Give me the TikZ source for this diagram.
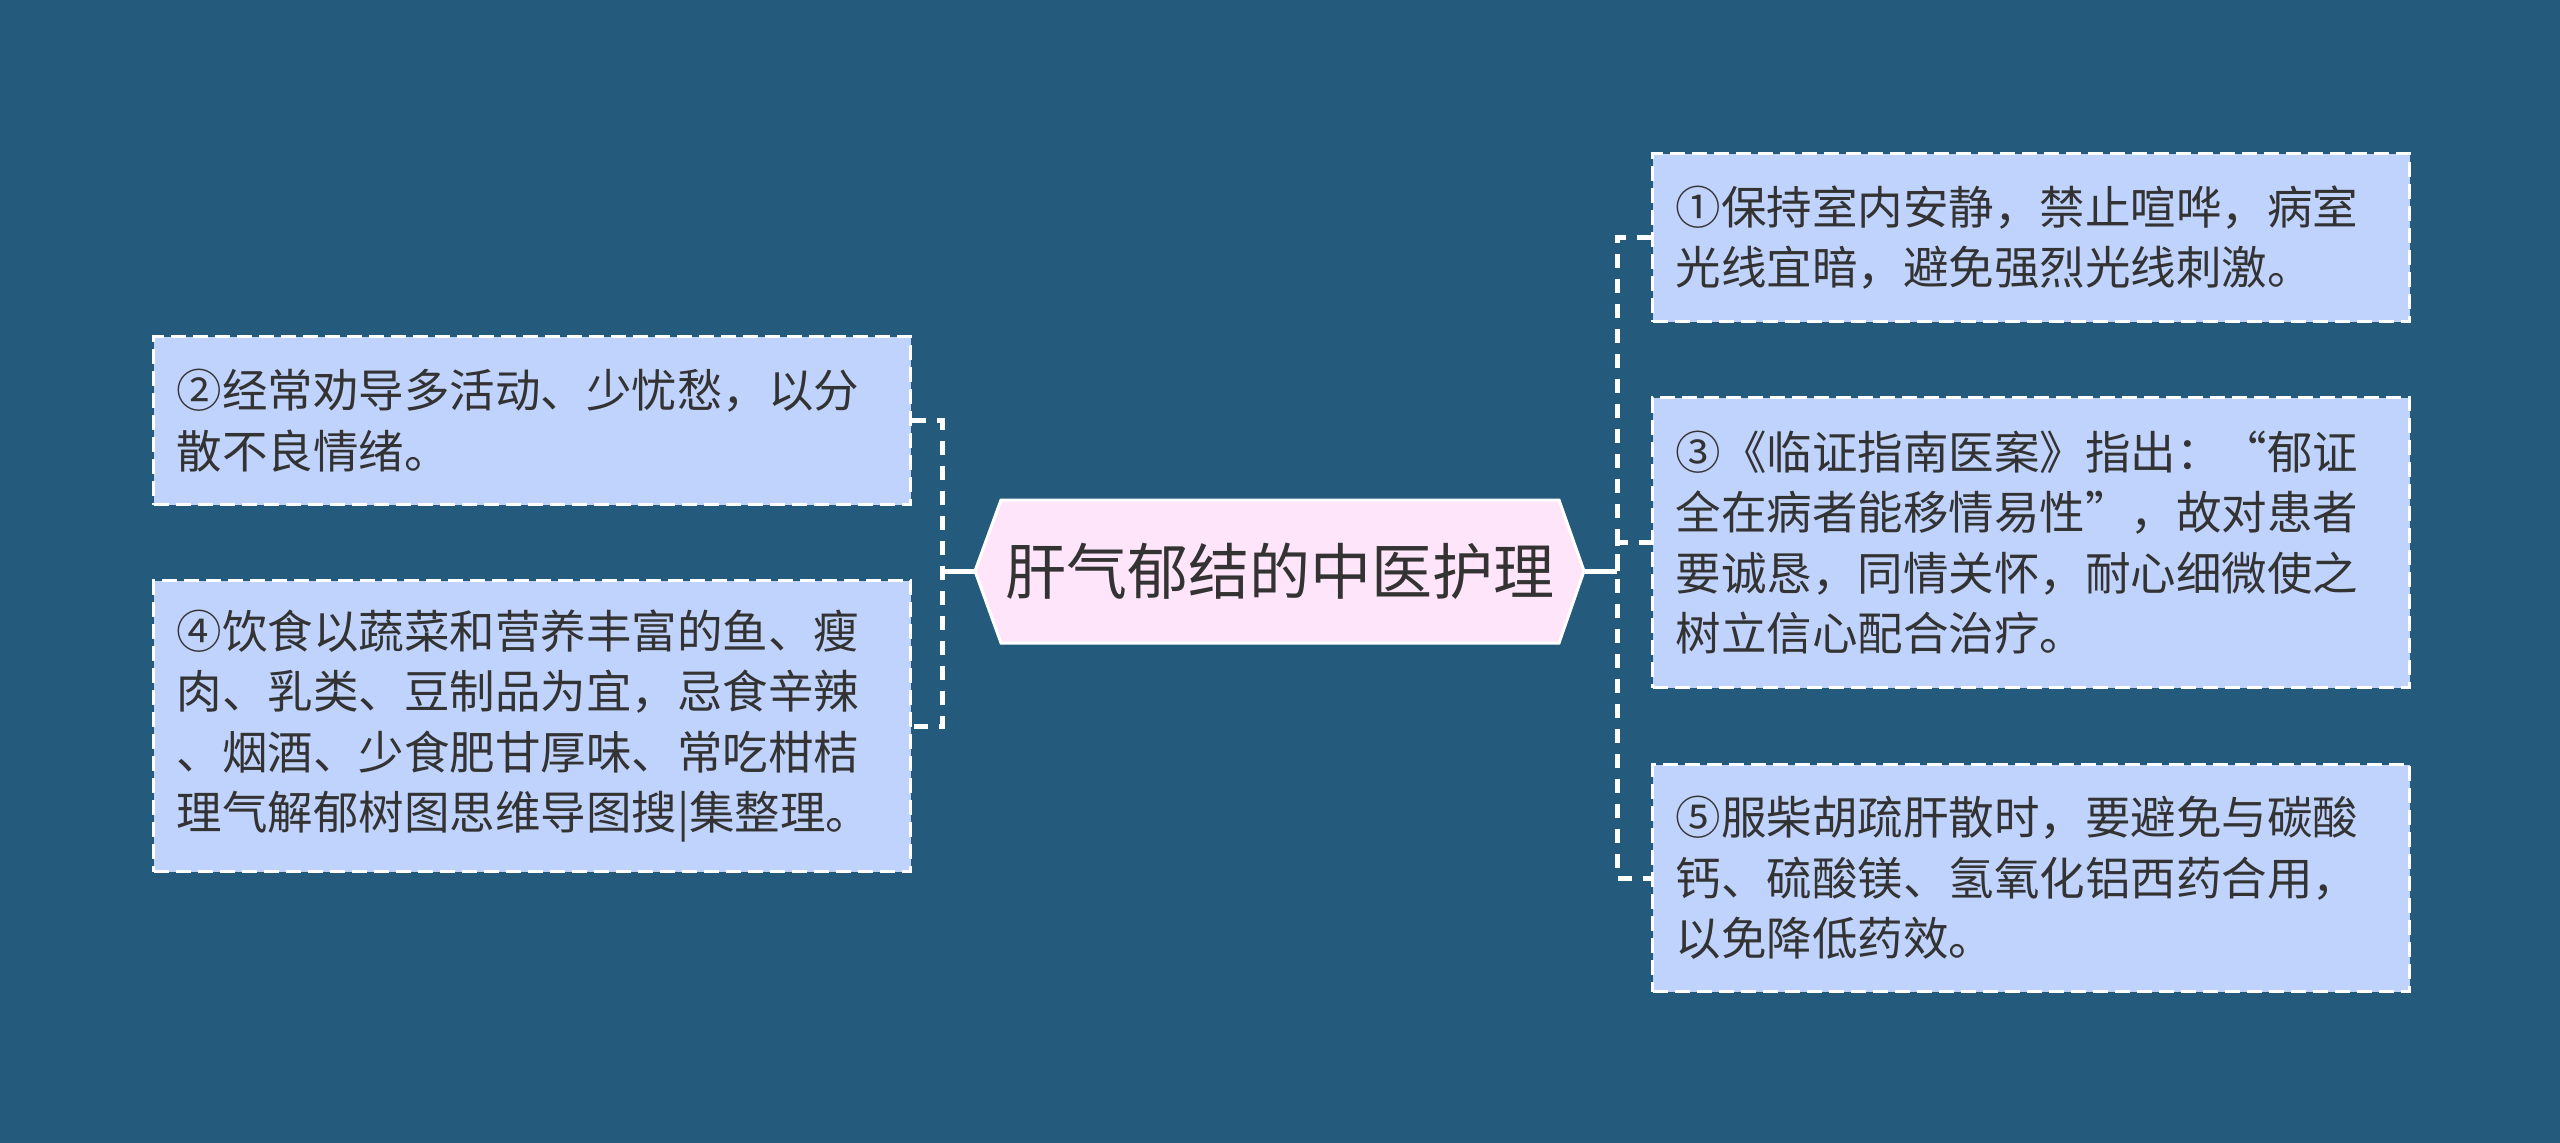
\documentclass[tikz,border=0pt]{standalone}
\usepackage{fontspec}
\setmainfont{Noto Sans CJK SC}
\XeTeXlinebreaklocale "zh"
\definecolor{bg}{HTML}{245A7C}
\definecolor{boxfill}{HTML}{C0D3FC}
\definecolor{rootfill}{HTML}{FFE5FA}
\definecolor{txt}{HTML}{333333}
\tikzset{
  leaf/.style={draw=white, line width=3pt, dash pattern=on 15pt off 7pt,
    fill=boxfill, text width=711pt, inner xsep=23pt, inner ysep=0pt,
    align=left, font=\fontsize{45.5pt}{60.5pt}\selectfont, text=txt,
    anchor=north west},
  link/.style={draw=white, line width=5pt, dash pattern=on 14pt off 11pt},
  stub/.style={draw=white, line width=5pt}
}
\begin{document}
\begin{tikzpicture}[x=1pt,y=-1pt]
\fill[bg] (0,0) rectangle (2560,1143);
\useasboundingbox (0,0) rectangle (2560,1143);

% central node
\fill[rootfill, draw=white, line width=3pt]
  (975,571) -- (1001,500) -- (1559,500) -- (1584,571) -- (1559,643) -- (1001,643) -- cycle;
\node[font=\fontsize{61pt}{70pt}\selectfont, text=txt, inner sep=0pt] (root) at (1279.5,571) {肝气郁结的中医护理};
\coordinate (rootL) at (975,571);
\coordinate (rootR) at (1584,571);
\coordinate (jL) at (942,571);
\coordinate (jR) at (1617,571);

% left boxes
\node[leaf, minimum height=168pt] (b2) at (152,335) {②经常劝导多活动、少忧愁，以分\\散不良情绪。};
\node[leaf, minimum height=291pt] (b4) at (152,579) {④饮食以蔬菜和营养丰富的鱼、瘦\\肉、乳类、豆制品为宜，忌食辛辣\\、烟酒、少食肥甘厚味、常吃柑桔\\理气解郁树图思维导图搜|集整理。};

% right boxes
\node[leaf, minimum height=168pt] (b1) at (1651,152) {①保持室内安静，禁止喧哗，病室\\光线宜暗，避免强烈光线刺激。};
\node[leaf, minimum height=290pt] (b3) at (1651,396) {③《临证指南医案》指出：“郁证\\全在病者能移情易性”，故对患者\\要诚恳，同情关怀，耐心细微使之\\树立信心配合治疗。};
\node[leaf, minimum height=227pt] (b5) at (1651,763) {⑤服柴胡疏肝散时，要避免与碳酸\\钙、硫酸镁、氢氧化铝西药合用，\\以免降低药效。};

% connectors
\draw[stub] (rootL) -- (jL);
\draw[stub] (rootR) -- (jR);
\draw[link] (b2.east) -| (jL) |- (b4.east);
\draw[link] (b1.west) -| (jR) |- (b5.west);
\draw[link] (jR) |- (b3.west);
\end{tikzpicture}
\end{document}
